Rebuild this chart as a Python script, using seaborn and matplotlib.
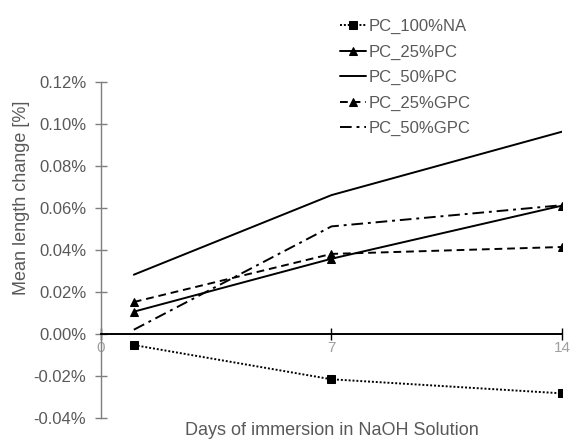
import matplotlib
matplotlib.use("Agg")
import matplotlib.pyplot as plt
import seaborn as sns
import pandas as pd
from matplotlib.ticker import FuncFormatter, FixedLocator

days = [1, 7, 14]
series_names = ["PC_100%NA", "PC_25%PC", "PC_50%PC", "PC_25%GPC", "PC_50%GPC"]
pc_100na = [-0.0054, -0.0217, -0.0284]
pc_25pc = [0.0105, 0.0357, 0.0610]
pc_50pc = [0.0281, 0.0660, 0.0962]
pc_25gpc = [0.0151, 0.0380, 0.0413]
pc_50gpc = [0.0019, 0.0511, 0.0612]
x_ticks = [0, 7, 14]
y_ticks = [-0.04, -0.02, 0.00, 0.02, 0.04, 0.06, 0.08, 0.10, 0.12]

values = [pc_100na, pc_25pc, pc_50pc, pc_25gpc, pc_50gpc]
rows = []
for name, vals in zip(series_names, values):
    for d, v in zip(days, vals):
        rows.append({"day": d, "value": v, "series": name})
df = pd.DataFrame(rows)

sns.set_style("white")
plt.rcParams['font.family'] = ['Liberation Sans Narrow', 'Liberation Sans', 'DejaVu Sans']
text_color = "#595959"

fig = plt.figure(figsize=(5.7, 4.41), dpi=100)
ax = fig.add_axes([0.177, 0.0528, 0.809, 0.7619])

styles = {
    "PC_100%NA": dict(linestyle=(0, (1, 1)), marker="s", markersize=6),
    "PC_25%PC": dict(linestyle="-", marker="^", markersize=6),
    "PC_50%PC": dict(linestyle="-", marker=None),
    "PC_25%GPC": dict(linestyle=(0, (4, 2.5)), marker="^", markersize=6),
    "PC_50%GPC": dict(linestyle=(0, (6, 2.5, 1.5, 2.5)), marker=None),
}
for name in series_names:
    sub = df[df["series"] == name]
    sns.lineplot(data=sub, x="day", y="value", ax=ax, color="black",
                 linewidth=1.4, label=name, markeredgecolor="black",
                 **styles[name])

ax.set_xlim(0, 14)
ax.set_ylim(-0.04, 0.12)
ax.xaxis.set_major_locator(FixedLocator(x_ticks))
ax.yaxis.set_major_locator(FixedLocator(y_ticks))
ax.yaxis.set_major_formatter(FuncFormatter(lambda v, p: f"{v:.2f}%"))

for s in ["top", "right"]:
    ax.spines[s].set_visible(False)
ax.spines["bottom"].set_position(("data", 0))
ax.spines["bottom"].set_color("black")
ax.spines["bottom"].set_linewidth(1.4)
ax.spines["left"].set_color("#7f7f7f")
ax.spines["left"].set_linewidth(1.0)

ax.tick_params(axis="y", direction="inout", length=9, width=1.0, color="#7f7f7f",
               labelsize=12, labelcolor=text_color, pad=6, left=True)
ax.tick_params(axis="x", direction="inout", length=8, width=1.0, color="black",
               labelsize=11, labelcolor="#a0a0a0", pad=1, bottom=True)

ax.set_xlabel("Days of immersion in NaOH Solution", fontsize=13, color=text_color)
ax.set_ylabel("Mean length change [%]", fontsize=13, color=text_color)
ax.xaxis.set_label_coords(0.5, -0.037)
ax.xaxis.label.set_va("center")
ax.yaxis.set_label_coords(-0.172, 0.654)
ax.yaxis.label.set_va("center")

leg = ax.legend(loc="upper left", bbox_to_anchor=(0.503, 1.206), frameon=False,
                fontsize=12, handlelength=1.6, handletextpad=0.15,
                labelspacing=0.62, borderaxespad=0)
for t in leg.get_texts():
    t.set_color(text_color)

fig.savefig("out.png", dpi=100)
